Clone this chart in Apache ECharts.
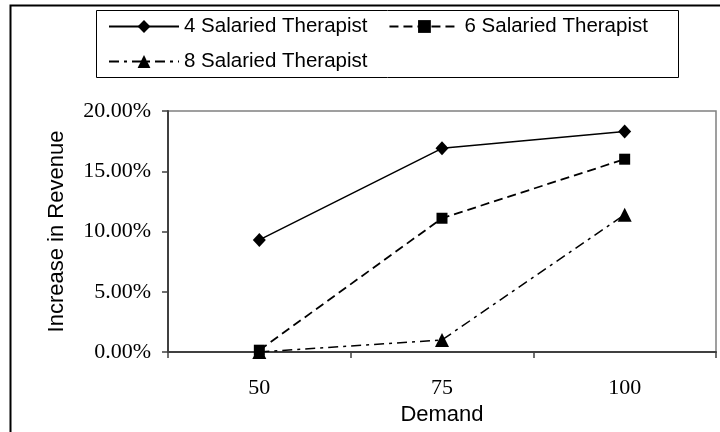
<!DOCTYPE html>
<html><head><meta charset="utf-8">
<script src="https://cdn.jsdelivr.net/npm/echarts@6/dist/echarts.min.js"></script>
<style>html,body{margin:0;padding:0;background:#fff;}#c{width:720px;height:432px;}</style>
</head><body><div id="c"></div>
<script>
const categories = ['50', '75', '100'];
const seriesNames = ['4 Salaried Therapist', '6 Salaried Therapist', '8 Salaried Therapist'];
const therapist4 = [9.3, 16.9, 18.3];
const therapist6 = [0.15, 11.1, 16.0];
const therapist8 = [0.0, 1.0, 11.4];
const yTicks = [0, 5, 10, 15, 20];

const chart = echarts.init(document.getElementById('c'), null, {renderer: 'canvas'});
const sans = 'Liberation Sans, Arial, sans-serif';
const serif = 'Liberation Serif, Times New Roman, serif';
const legendCommon = {
  itemGap: 21, itemWidth: 70, itemHeight: 16, padding: 0,
  textStyle: {fontFamily: sans, fontSize: 20.5, color: '#000', lineHeight: 20}
};
chart.setOption({
  animation: false,
  backgroundColor: '#fff',
  graphic: [{
    type: 'rect', left: 8, top: 3, shape: {x: 0, y: 0, width: 800, height: 500},
    style: {fill: 'none', stroke: '#000', lineWidth: 2}, silent: true, z: 100
  }, {
    type: 'rect', left: 94, top: 8, shape: {x: 0, y: 0, width: 582, height: 67},
    style: {fill: 'none', stroke: '#000', lineWidth: 1}, silent: true, z: 100
  }],
  legend: [
    Object.assign({left: 108, top: 16, data: seriesNames.slice(0, 2)}, legendCommon),
    Object.assign({left: 108, top: 51, data: seriesNames.slice(2)}, legendCommon)
  ],
  grid: {left: 168, right: 4, top: 111, bottom: 80, show: true, borderColor: '#808080', borderWidth: 1.5, containLabel: false},
  xAxis: {
    type: 'category', data: categories, boundaryGap: true,
    name: 'Demand', nameLocation: 'middle', nameGap: 51,
    nameTextStyle: {fontFamily: sans, fontSize: 22, color: '#000'},
    axisLine: {lineStyle: {color: '#404040', width: 2}},
    axisTick: {show: true, alignWithLabel: false, length: 6, lineStyle: {color: '#404040', width: 1.5}},
    axisLabel: {fontFamily: serif, fontSize: 22, color: '#000', margin: 25},
    splitLine: {show: false}
  },
  yAxis: {
    type: 'value', min: 0, max: 20, interval: 5,
    name: 'Increase in Revenue', nameLocation: 'middle', nameGap: 100,
    nameTextStyle: {fontFamily: sans, fontSize: 22, color: '#000'},
    axisLine: {show: true, lineStyle: {color: '#404040', width: 2}},
    axisTick: {show: true, length: 6, lineStyle: {color: '#404040', width: 1.5}},
    axisLabel: {fontFamily: serif, fontSize: 22, color: '#000', margin: 17,
      formatter: v => v.toFixed(2) + '%'},
    splitLine: {show: false}
  },
  series: [
    {name: seriesNames[0], type: 'line', data: therapist4, symbol: 'diamond', symbolSize: [13, 14],
      itemStyle: {color: '#000'}, lineStyle: {color: '#000', width: 1.5, type: 'solid'}},
    {name: seriesNames[1], type: 'line', data: therapist6, symbol: 'rect', symbolSize: 11,
      itemStyle: {color: '#000'}, lineStyle: {color: '#000', width: 1.8, type: [9, 5]}},
    {name: seriesNames[2], type: 'line', data: therapist8, symbol: 'triangle', symbolSize: 14,
      itemStyle: {color: '#000'}, lineStyle: {color: '#000', width: 1.5, type: [10, 5, 3, 5]}}
  ]
});
</script></body></html>
